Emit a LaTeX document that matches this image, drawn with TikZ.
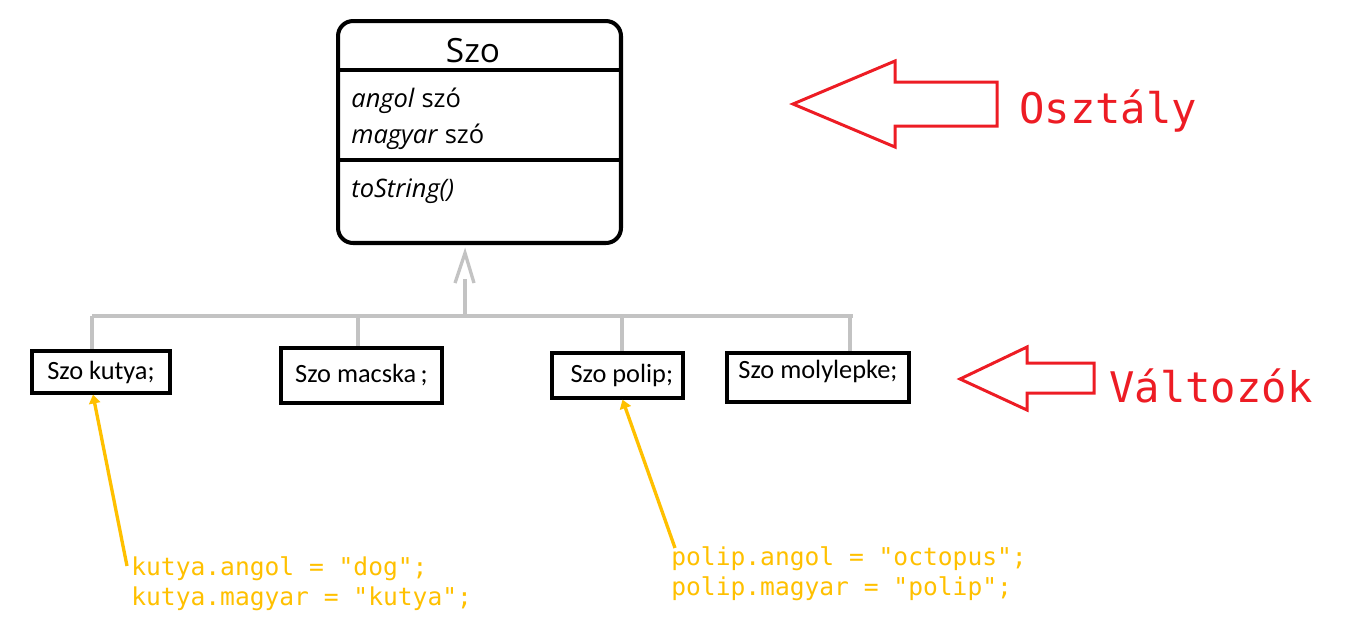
\documentclass[tikz,border=0pt]{standalone}
\usepackage{fontspec}
\newfontfamily\uifont{Carlito}
\newfontfamily\umlfont{Open Sans}
\newfontfamily\codefont{DejaVu Sans Mono}
\usetikzlibrary{arrows.meta}
\definecolor{labelred}{RGB}{237,28,36}
\definecolor{codeyellow}{RGB}{255,192,0}
\definecolor{linegray}{RGB}{195,195,195}
\tikzset{
  valtozo/.style={draw, line width=1.9pt, inner sep=0pt, font=\uifont\fontsize{15}{18}\selectfont},
  gen/.style={linegray, line width=1.9pt},
  bigarrow/.style={labelred, line width=1.7pt, line join=miter},
  biglabel/.style={labelred, anchor=base west, inner sep=0pt, font=\codefont\fontsize{24}{28}\selectfont},
  code/.style={codeyellow, anchor=base west, inner sep=0pt, align=left, font=\codefont\fontsize{14}{17}\selectfont},
  pointer/.style={codeyellow, line width=1.9pt, -{Triangle[length=5pt,width=6.5pt]}}
}
\begin{document}
\begin{tikzpicture}[x=0.02cm, y=-0.02cm]
  \useasboundingbox (0,0) rectangle (1358,620);
  % the class
  \node[draw, line width=2.3pt, rounded corners=0.3cm, minimum width=5.66cm, minimum height=4.44cm] (szo) at (479.5,132) {};
  \coordinate (div1) at (0,70);
  \coordinate (div2) at (0,160);
  \draw[line width=2.3pt] (szo.west |- div1) -- (szo.east |- div1);
  \draw[line width=2.3pt] (szo.west |- div2) -- (szo.east |- div2);
  \node[anchor=base, inner sep=0pt, font=\umlfont\fontsize{19}{22}\selectfont] (title) at (473,62) {Szo};
  \node[anchor=base west, inner sep=0pt, font=\umlfont\fontsize{14.5}{17}\selectfont] (angol) at (351,107) {\textit{angol} szó};
  \node[anchor=base west, inner sep=0pt, font=\umlfont\fontsize{14.5}{17}\selectfont] (magyar) at (351,143) {\textit{magyar} szó};
  \node[anchor=base west, inner sep=0pt, font=\umlfont\fontsize{14.5}{17}\selectfont] (tostr) at (351,197) {\textit{toString()}};

  % the variables
  \node[valtozo, minimum width=2.76cm, minimum height=0.84cm] (kutya) at (101,372) {Szo kutya;};
  \node[valtozo, minimum width=3.22cm, minimum height=1.1cm] (macska) at (361.5,375.5) {Szo macska\,;};
  \node[valtozo, minimum width=2.62cm, minimum height=0.9cm] (polip) at (617.5,375.5) {\hspace{5pt}Szo polip;};
  \node[valtozo, minimum width=3.64cm, minimum height=0.98cm, text depth=9pt] (molylepke) at (818,377.5) {Szo molylepke;};

  % inheritance
  \coordinate (busL) at (92,316);
  \coordinate (busR) at (853,316);
  \coordinate (bus) at (465,316);
  \draw[gen] (busL) -- (busR);
  \foreach \x/\n in {92/kutya, 358/macska, 622/polip, 850/molylepke}
    \draw[gen] (\x,316) -- (\x,316 |- \n.north);
  \draw[gen] (bus) -- ++(0,-37);
  \draw[gen] (bus) ++(-10,-33) -- ++(10,-30) -- ++(9,30);

  % labels on the right
  \draw[bigarrow] (793,104) -- (895,61) -- (895,82) -- (997,82) -- (997,126) -- (895,126) -- (895,147) -- cycle;
  \node[biglabel] (osztaly) at (1019,123) {Osztály};
  \draw[bigarrow] (960,379) -- (1027,347) -- (1027,363) -- (1094,363) -- (1094,393) -- (1027,393) -- (1027,410) -- cycle;
  \node[biglabel] (valtozok) at (1109,402) {Változók};

  % field values
  \node[code] (kcode) at (131,605) {kutya.angol = "dog";\\kutya.magyar = "kutya";};
  \node[code] (pcode) at (671,595) {polip.angol = "octopus";\\polip.magyar = "polip";};
  \draw[pointer] ([shift={(-4,10)}]kcode.north west) -- ([shift={(-8,0)}]kutya.south);
  \draw[pointer] ([shift={(4,2)}]pcode.north west) -- ([shift={(5,0)}]polip.south);
\end{tikzpicture}
\end{document}
